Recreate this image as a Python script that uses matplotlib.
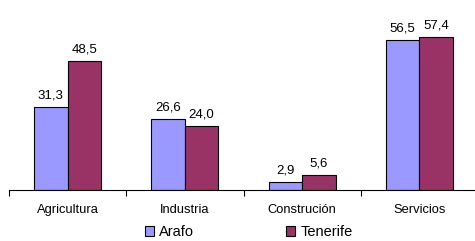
import numpy as np
import matplotlib.pyplot as plt
from matplotlib.ticker import FixedLocator

plt.rcParams['font.family'] = ['Liberation Sans', 'DejaVu Sans']

categories = ["Agricultura", "Industria", "Construción", "Servicios"]
arafo = [31.3, 26.6, 2.9, 56.5]
tenerife = [48.5, 24.0, 5.6, 57.4]
series_names = ["Arafo", "Tenerife"]

fig = plt.figure(figsize=(4.75, 2.41), dpi=100)
ax = fig.add_axes([9 / 475, 1 - 190 / 241, 469 / 475, 186 / 241])

x = np.arange(len(categories))
w = 0.286
b1 = ax.bar(x - w / 2, arafo, w, color="#9999FF", edgecolor="black", linewidth=0.8, label=series_names[0])
b2 = ax.bar(x + w / 2, tenerife, w, color="#993366", edgecolor="black", linewidth=0.8, label=series_names[1])

for bars, vals in ((b1, arafo), (b2, tenerife)):
    for r, v in zip(bars, vals):
        ax.annotate(f"{v:.1f}".replace(".", ","), (r.get_x() + r.get_width() / 2, r.get_height()),
                    xytext=(0, 4), textcoords="offset points", ha="center", va="bottom", fontsize=9.5)

ax.set_xlim(-0.5, 3.5)
ax.set_ylim(0, 70)
ax.set_xticks(x)
ax.set_xticklabels(categories, fontsize=9.3)
ax.tick_params(axis="x", which="major", length=0, pad=10)
ax.xaxis.set_minor_locator(FixedLocator([-0.5, 0.5, 1.5, 2.5, 3.5]))
ax.tick_params(axis="x", which="minor", length=4, width=0.8)
ax.set_yticks([])
for s in ("left", "right", "top"):
    ax.spines[s].set_visible(False)
ax.spines["bottom"].set_linewidth(0.8)

fig.legend(handles=[b1, b2], labels=series_names, loc="center", bbox_to_anchor=(0.524, 1 - 232 / 241),
           ncol=2, frameon=False, fontsize=10.5, handlelength=0.62, handleheight=0.62,
           handletextpad=0.35, columnspacing=6.3, borderaxespad=0)

fig.savefig("out.png", dpi=100)
